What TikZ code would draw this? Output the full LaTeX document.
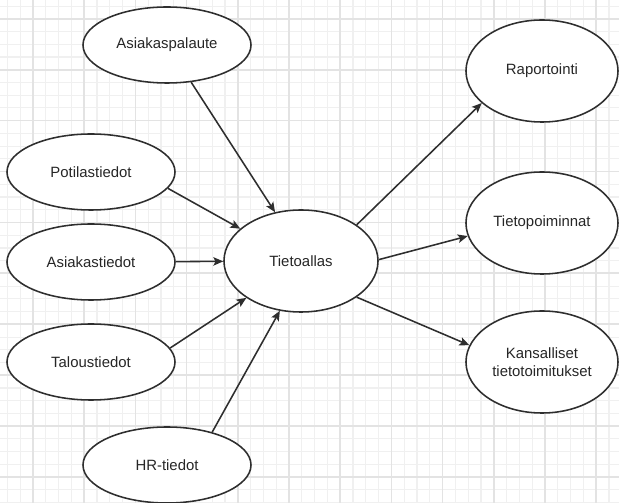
\documentclass[tikz,border=0pt]{standalone}
\usepackage{fontspec}
\setmainfont{Liberation Sans}
\usepackage{tikz}
\usetikzlibrary{arrows.meta, shapes.geometric}
\definecolor{gridminor}{HTML}{F0F0F0}
\definecolor{gridmajor}{HTML}{E3E3E3}
\definecolor{ink}{HTML}{2E2E2E}

\begin{document}
\begin{tikzpicture}[x=0.025cm, y=-0.025cm, >={Stealth[length=7pt,width=6pt,inset=1.5pt]}]

\useasboundingbox (0,0) rectangle (619,503);
\fill[white] (0,0) rectangle (619,503);

% background grid
\begin{scope}
\clip (0,0) rectangle (619,503);
\foreach \i in {0,...,48} \draw[gridminor, line width=0.8pt] ({7.4+12.8*\i},0) -- ({7.4+12.8*\i},503);
\foreach \i in {0,...,39} \draw[gridminor, line width=0.8pt] (0,{6.1+12.73*\i}) -- (619,{6.1+12.73*\i});
\foreach \i in {0,...,11} \draw[gridmajor, line width=1.2pt] ({33+51.2*\i},0) -- ({33+51.2*\i},503);
\foreach \i in {0,...,9} \draw[gridmajor, line width=1.2pt] (0,{18.8+50.9*\i}) -- (619,{18.8+50.9*\i});
\end{scope}

\begin{scope}[every node/.style={ellipse, draw=ink, line width=1.1pt, fill=white, text=black!85,
    inner sep=0pt, minimum width=4.2cm, minimum height=1.9cm, align=center,
    font=\fontsize{10.6}{13}\selectfont}]
  \node (palaute) at (167,45) {Asiakaspalaute};
  \node (potilas) at (91,172) {Potilastiedot};
  \node (asiakas) at (91,262) {Asiakastiedot};
  \node (talous) at (91,362) {Taloustiedot};
  \node (hr) at (167,465) {HR-tiedot};
  \node[minimum width=3.85cm, minimum height=2.55cm] (allas) at (301,261) {Tietoallas};
  \node[minimum width=3.8cm, minimum height=2.55cm] (raportit) at (542,71) {Raportointi};
  \node[minimum width=3.8cm, minimum height=2.55cm] (poiminnat) at (542,223) {Tietopoiminnat};
  \node[minimum width=3.8cm, minimum height=2.55cm] (kansalliset) at (542,362) {Kansalliset\\tietotoimitukset};
\end{scope}

\begin{scope}[ink, line width=1.1pt]
\path[->] (palaute.-57) edge (allas.118);
\path[->] (potilas.-12) edge (allas.152);
\path[->] (asiakas) edge (allas);
\path[->] (talous.10) edge (allas.214);
\path[->] (hr.36) edge (allas.247);
\path[->] (allas.33) edge (raportit.208);
\path[->] (allas.1) edge (poiminnat.190);
\path[->] (allas.-33) edge (kansalliset.167);
\end{scope}

\end{tikzpicture}
\end{document}
